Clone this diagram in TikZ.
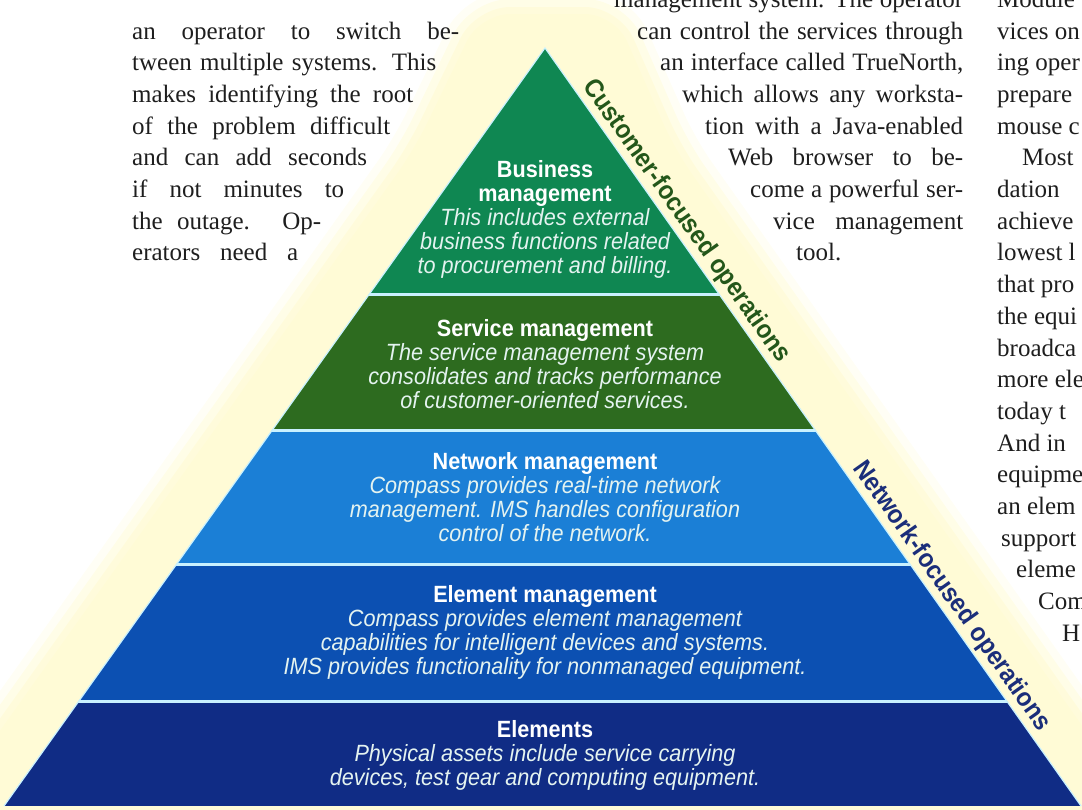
\documentclass[tikz,border=0pt]{standalone}
\usepackage{fontspec}
\setmainfont{Liberation Serif}
\newfontfamily\pyrfont[FakeStretch=0.92]{Liberation Sans}
\usetikzlibrary{positioning}
\definecolor{pyrBiz}{HTML}{0F8752}
\definecolor{pyrSvc}{HTML}{2D6B1F}
\definecolor{pyrNet}{HTML}{1B7FD6}
\definecolor{pyrElm}{HTML}{0C50B2}
\definecolor{pyrEls}{HTML}{102C85}
\definecolor{pyrHalo}{HTML}{FFFBD6}
\definecolor{pyrRule}{HTML}{C9F1FF}
\definecolor{pyrCust}{HTML}{24571A}
\definecolor{pyrNetw}{HTML}{1B2E7A}
\definecolor{pyrInk}{HTML}{1E1E1E}
\definecolor{pyrNote}{HTML}{E4F3F0}
\newcommand\pyrnote[1]{\textcolor{pyrNote}{\itshape #1}}

\begin{document}
\begin{tikzpicture}[x=1pt,y=-1pt,
    body/.style={font=\fontsize{25}{31.7}\selectfont,text=pyrInk,
                 inner sep=0pt,anchor=base west},
    layertxt/.style={font=\pyrfont\fontsize{23.5}{24}\selectfont,
                 align=center,text=white,inner sep=0pt},
    side/.style={font=\pyrfont\bfseries\fontsize{26}{26}\selectfont,
                 sloped,above,inner sep=3pt},
    rule/.style={draw=pyrRule,line width=3pt}]
  \useasboundingbox (0,0) rectangle (1082,809);
  \clip (0,0) rectangle (1082,809);

  % pale halo behind the pyramid
  \coordinate (h1) at (480,14);
  \coordinate (h2) at (615,14);
  \coordinate (h3) at (675,150);
  \coordinate (h4) at (1163,840);
  \coordinate (h5) at (-78,840);
  \coordinate (h6) at (414,150);
  \foreach \w/\o in {46/0.25,30/0.45,14/0.7}
    \draw[pyrHalo,line width=\w,opacity=\o,rounded corners=30,line join=round]
      (h1) -- (h2) -- (h3) -- (h4) -- (h5) -- (h6) -- cycle;
  \fill[pyrHalo,rounded corners=30]
    (h1) -- (h2) -- (h3) -- (h4) -- (h5) -- (h6) -- cycle;

  % pyramid layers
  \coordinate (apex) at (545,48);
  \coordinate (bl) at (4,806);
  \coordinate (br) at (1081,806);
  \begin{scope}
    \clip (apex) -- (bl) -- (br) -- cycle;
    \fill[pyrBiz] (0,40) rectangle (1082,294);
    \fill[pyrSvc] (0,294) rectangle (1082,430);
    \fill[pyrNet] (0,430) rectangle (1082,564);
    \fill[pyrElm] (0,564) rectangle (1082,701);
    \fill[pyrEls] (0,701) rectangle (1082,806);
    \foreach \yy in {294,430,564,701}
      \draw[rule] (0,\yy) -- (1082,\yy);
  \end{scope}
  \draw[pyrRule,line width=1.2pt] (bl) -- (apex) -- (br);

  % side labels
  \path (apex) -- (br)
    node[side,pos=0.24,text=pyrCust] (custlbl) {Customer-focused operations}
    node[side,pos=0.735,text=pyrNetw] (netlbl) {Network-focused operations};

  % layer texts
  \node[layertxt] (biz) at (545,219) {\textbf{Business}\\ \textbf{management}\\
    \pyrnote{This includes external}\\ \pyrnote{business functions related}\\
    \pyrnote{to procurement and billing.}};
  \node[layertxt] (svc) at (545,364) {\textbf{Service management}\\
    \pyrnote{The service management system}\\
    \pyrnote{consolidates and tracks performance}\\
    \pyrnote{of customer-oriented services.}};
  \node[layertxt] (net) at (545,497) {\textbf{Network management}\\
    \pyrnote{Compass provides real-time network}\\
    \pyrnote{management. IMS handles configuration}\\
    \pyrnote{control of the network.}};
  \node[layertxt] (elm) at (545,632) {\textbf{Element management}\\
    \pyrnote{Compass provides element management}\\
    \pyrnote{capabilities for intelligent devices and systems.}\\
    \pyrnote{IMS provides functionality for nonmanaged equipment.}};
  \node[layertxt] (els) at (545,755) {\textbf{Elements}\\
    \pyrnote{Physical assets include service carrying}\\
    \pyrnote{devices, test gear and computing equipment.}};

  % running text round the figure
  \foreach \txt/\lw [count=\i from 0] in {{an operator to switch be-}/327,
      {tween multiple systems. This}/304, {makes identifying the root}/281,
      {of the problem difficult}/258, {and can add seconds}/235,
      {if not minutes to}/212, {the outage. Op-}/189, {erators need a}/166}
    \node[body] (lcol-\i) at (132,39+31.7*\i) {\makebox[\lw pt][s]{\txt}};
  \foreach \txt/\lx [count=\i from 0] in {{management system. The operator}/614,
      {can control the services through}/637, {an interface called TrueNorth,}/660,
      {which allows any worksta-}/682, {tion with a Java-enabled}/705,
      {Web browser to be-}/728, {come a powerful ser-}/750, {vice management}/773}
  {
    \pgfmathsetmacro\lw{963-\lx}
    \node[body] (mcol-\i) at (\lx,7.3+31.7*\i) {\makebox[\lw pt][s]{\txt}};
  }
  \node[body] (mcol-8) at (796,260.9) {tool.};
  \foreach \txt/\lx [count=\i from 0] in {Module/997, {vices on}/997,
      {ing oper}/997, prepare/997, {mouse c}/997, Most/1022, dation/997,
      achieve/997, {lowest l}/997, {that pro}/997, {the equi}/997,
      broadca/997, {more ele}/997, {today t}/997, {And in}/997,
      equipme/997, {an elem}/997, support/1001, eleme/1016, Com/1038, H/1062}
    \node[body] (rcol-\i) at (\lx,7.3+31.7*\i) {\txt};
\end{tikzpicture}
\end{document}
